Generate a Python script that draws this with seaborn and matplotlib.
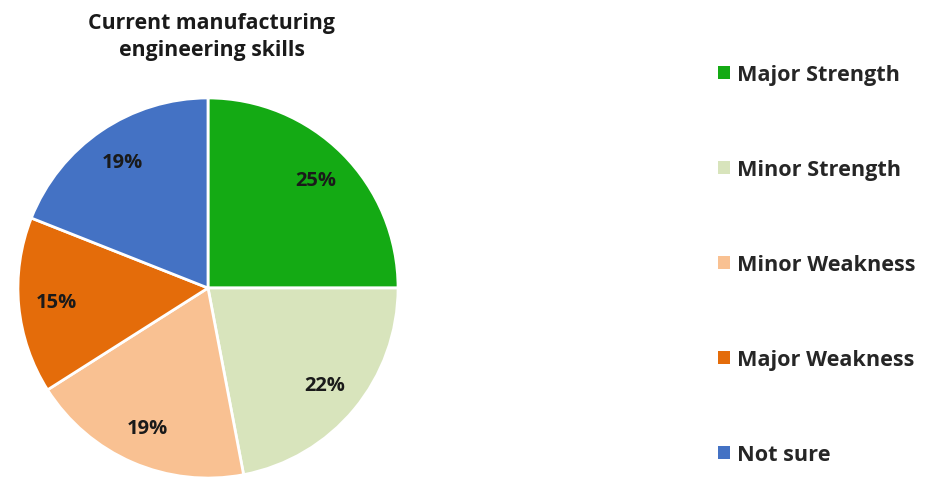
import matplotlib
matplotlib.use("Agg")
import matplotlib.pyplot as plt
import seaborn as sns
from matplotlib.patches import Patch

categories = ["Major Strength", "Minor Strength", "Minor Weakness", "Major Weakness", "Not sure"]
shares = [25, 22, 19, 15, 19]
colors = ["#14AA14", "#D8E4BC", "#F9C192", "#E46C0A", "#4472C4"]
title = "Current manufacturing\nengineering skills"

sns.set_theme(style="white")
plt.rcParams["font.family"] = ["Open Sans", "DejaVu Sans"]
palette = sns.color_palette(colors)

fig = plt.figure(figsize=(9.28, 4.81), dpi=100)
ax = fig.add_axes([17 / 928, 1 / 481, 382 / 928, 382 / 481])

wedges, texts, autotexts = ax.pie(
    shares,
    colors=palette,
    startangle=90,
    counterclock=False,
    autopct=lambda p: f"{p:.0f}%",
    pctdistance=0.8,
    wedgeprops=dict(edgecolor="white", linewidth=2),
    textprops=dict(fontsize=14.5, fontweight="bold", color="#1a1a1a"),
)
ax.set_xlim(-1.005, 1.005)
ax.set_ylim(-1.005, 1.005)
ax.set_aspect("equal")

fig.text(212 / 928, 1 - 37 / 481, title, ha="center", va="center",
         fontsize=15.3, fontweight="bold", color="#1a1a1a", linespacing=1.42)

handles = [Patch(facecolor=c, edgecolor="none") for c in palette]
fig.legend(handles, categories, loc="upper left", bbox_to_anchor=(699 / 928, 1 - 46 / 481),
           frameon=False, labelspacing=3.41, handlelength=0.55, handleheight=0.55,
           handletextpad=0.3, prop=dict(size=15.6, weight="bold"))

fig.savefig("out.png", dpi=100, facecolor="white")
